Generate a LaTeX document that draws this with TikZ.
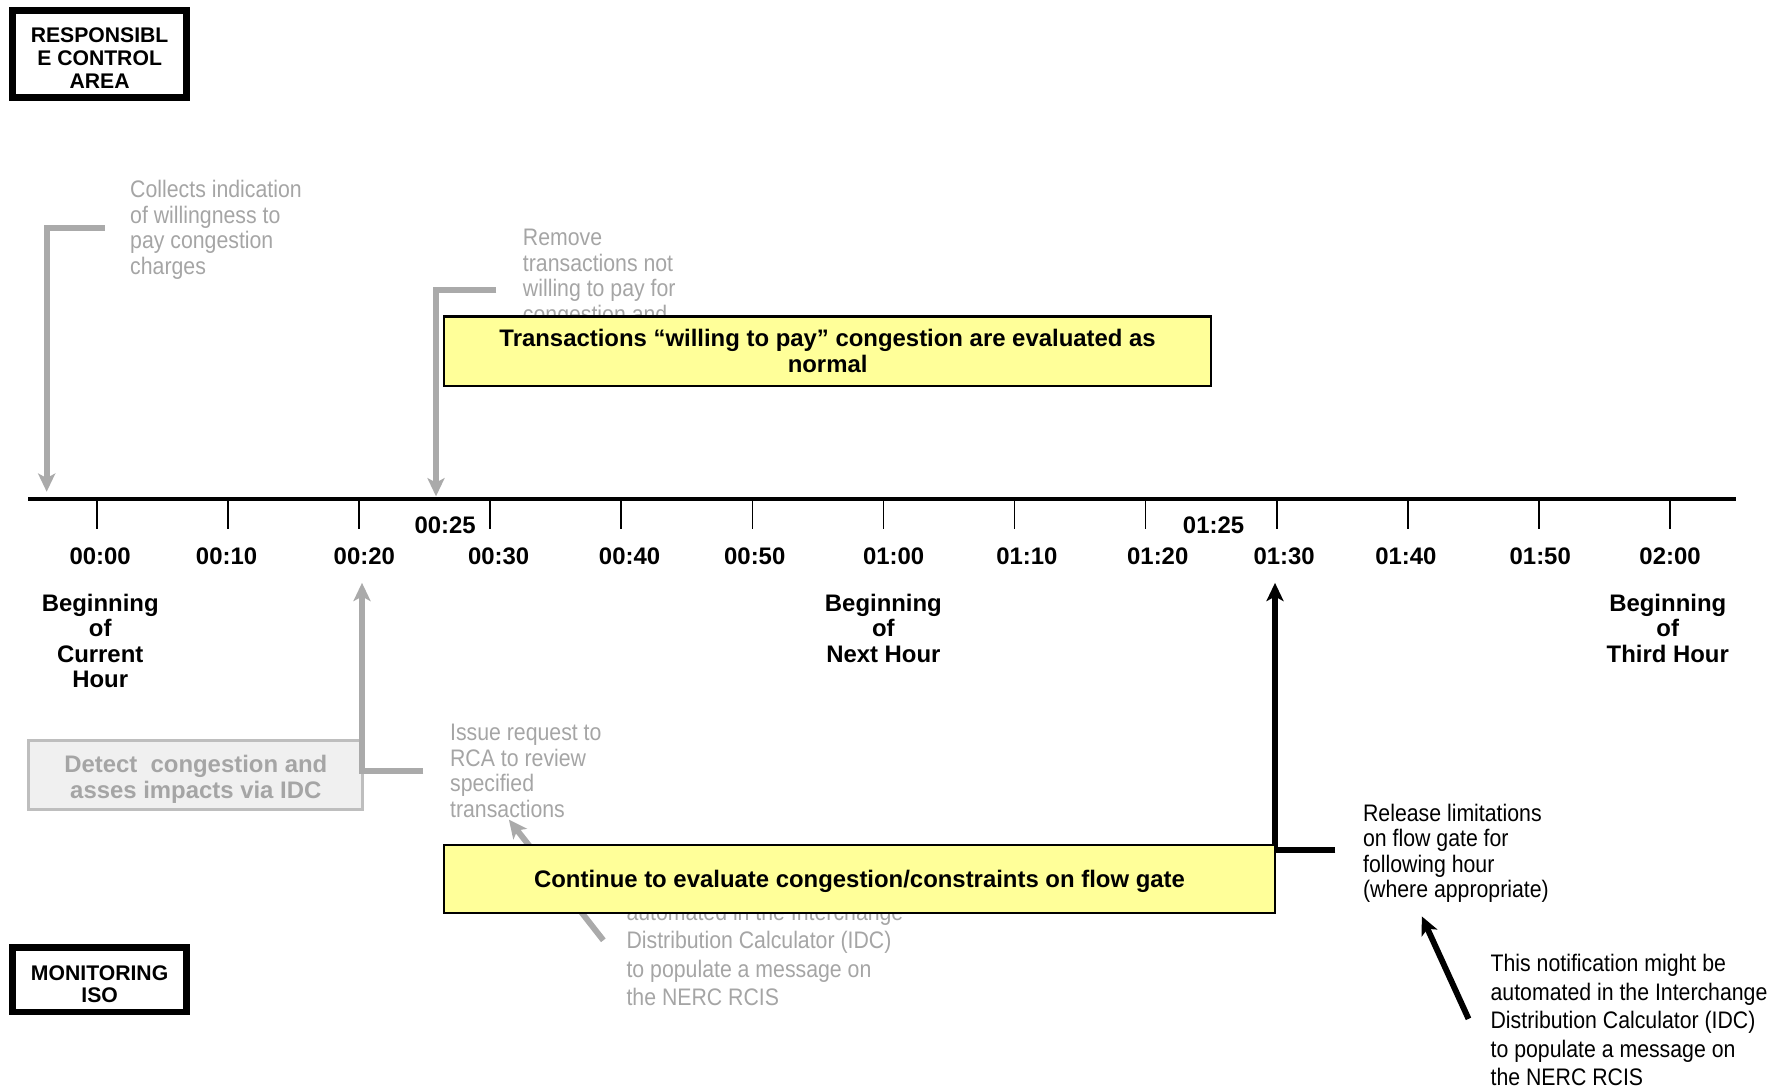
\documentclass[tikz,border=0pt]{standalone}
\usepackage{fontspec}
\setmainfont{Liberation Sans}
\newfontfamily\narrowfont[FakeStretch=0.89]{Liberation Sans}
\usetikzlibrary{positioning,arrows.meta,calc}
\definecolor{notegrey}{RGB}{165,165,165}
\definecolor{linkgrey}{RGB}{170,170,170}
\definecolor{evalyellow}{RGB}{255,255,153}
\definecolor{detectfill}{RGB}{240,240,240}
\definecolor{detectframe}{RGB}{190,190,190}
\tikzset{
  lanebox/.style={draw=black, line width=3pt, inner sep=0pt, align=center,
    minimum width=76.5pt, font=\fontsize{9.3}{10}\selectfont\bfseries},
  evalbox/.style={draw=black, line width=1pt, fill=evalyellow, inner sep=0pt,
    align=center, font=\fontsize{10.5}{11.5}\selectfont\bfseries},
  detectbox/.style={draw=detectframe, line width=1.3pt, fill=detectfill, inner sep=0pt,
    align=center, minimum width=146.7pt, minimum height=30.2pt, text=notegrey,
    font=\fontsize{10.5}{11.5}\selectfont\bfseries},
  timeline/.style={line width=1.75pt, draw=black},
  minortick/.style={line width=0.7pt, draw=black},
  ticklabel/.style={inner sep=0pt, font=\fontsize{10.5}{11.25}\selectfont\bfseries},
  hourlabel/.style={inner sep=0pt, align=center, font=\fontsize{10.5}{11.25}\selectfont\bfseries},
  greynote/.style={inner sep=0pt, anchor=north west, align=left, text=notegrey,
    font=\narrowfont\fontsize{10.5}{11.2}\selectfont},
  blacknote/.style={inner sep=0pt, anchor=north west, align=left, text=black,
    font=\narrowfont\fontsize{10.5}{11.2}\selectfont},
  greylink/.style={line width=2.6pt, draw=linkgrey,
    -{Stealth[length=8pt,width=7.5pt,inset=2pt]}},
  blacklink/.style={line width=2.6pt, draw=black,
    -{Stealth[length=8pt,width=7.5pt,inset=2pt]}}
}
\begin{document}
\begin{tikzpicture}[x=0.5pt, y=-0.5pt]
    \useasboundingbox (0,0) rectangle (1568,956);

    % lanes
    \node[lanebox, minimum height=38.5pt] (rca) at (87.5,47.5) {\rule{0pt}{10.2pt}RESPONSIBL\\E CONTROL\\AREA};
    \node[lanebox, minimum height=28.5pt] (iso) at (87.5,860.5) {\rule{0pt}{10.6pt}MONITORING\\ISO};

    % time line
    \coordinate (tl0) at (25,438);
    \coordinate (tl1) at (1525,438);
    \draw[timeline] (tl0) -- (tl1);
    \foreach \i in {0,...,12} {
      \coordinate (tk\i) at ({85+115.17*\i},438);
      \draw[minortick] (tk\i) -- ++(0,27);
    }
    \foreach \x/\t [count=\n] in {88/00:00, 199/00:10, 320/00:20, 438/00:30, 553/00:40,
        663/00:50, 785/01:00, 902/01:10, 1017/01:20, 1128/01:30, 1235/01:40,
        1353/01:50, 1467/02:00}
      \node[ticklabel] (time\n) at (\x,489) {\t};
    \node[ticklabel] (time25) at (391,461) {00:25};
    \node[ticklabel] (time85) at (1066,461) {01:25};

    \node[hourlabel] (curhour) at (88,563) {Beginning\\of\\Current\\Hour};
    \node[hourlabel] (nexthour) at (776,552) {Beginning\\of\\Next Hour};
    \node[hourlabel] (thirdhour) at (1465,552) {Beginning\\of\\Third Hour};

    % responsible control area notes
    \node[greynote] (collects) at (114,158) {Collects indication\\of willingness to\\pay congestion\\charges};
    \node[greynote] (remove) at (459,201) {Remove\\transactions not\\willing to pay for\\congestion and};
    \coordinate (collectsend) at (92,200);
    \coordinate (t00) at (41,432);
    \draw[greylink] (collectsend) -| (t00);
    \coordinate (removeend) at (436,255);
    \coordinate (t25) at (383,436);
    \draw[greylink] (removeend) -| (t25);

    % monitoring iso notes
    \node[detectbox] (detect) at (172,680.5) {\rule{0pt}{11.7pt}Detect~ congestion and\\asses impacts via IDC};
    \node[greynote] (issue) at (395,636) {Issue request to\\RCA to review\\specified\\transactions};
    \node[greynote, font=\narrowfont\fontsize{10.5}{12.5}\selectfont] (greynotify) at (550,793)
      {automated in the Interchange\\Distribution Calculator (IDC)\\to populate a message on\\the NERC RCIS};
    \coordinate (issueend) at (372,677);
    \coordinate (t20) at (318,512);
    \draw[greylink] (issueend) -| (t20);
    \coordinate (greytail) at (530,826);
    \coordinate (greyhead) at (447,720);
    \draw[greylink] (greytail) -- (greyhead);

    \node[blacknote] (release) at (1197,706) {Release limitations\\on flow gate for\\following hour\\(where appropriate)};
    \node[blacknote, font=\narrowfont\fontsize{10.5}{12.5}\selectfont] (notify) at (1309,838)
      {This notification might be\\automated in the Interchange\\Distribution Calculator (IDC)\\to populate a message on\\the NERC RCIS};
    \coordinate (releaseend) at (1173,747);
    \coordinate (t130) at (1120,512);
    \draw[blacklink] (releaseend) -| (t130);
    \coordinate (notifytail) at (1290,895);
    \coordinate (notifyhead) at (1249,805);
    \draw[blacklink] (notifytail) -- (notifyhead);

    % evaluation bars
    \node[evalbox, minimum width=337pt, minimum height=30.5pt] (evalpay) at (727,308.5)
      {Transactions “willing to pay” congestion are evaluated as\\normal};
    \node[evalbox, minimum width=365pt, minimum height=30pt, text depth=0pt] (evalgate) at (755,772)
      {Continue to evaluate congestion/constraints on flow gate};
\end{tikzpicture}
\end{document}
